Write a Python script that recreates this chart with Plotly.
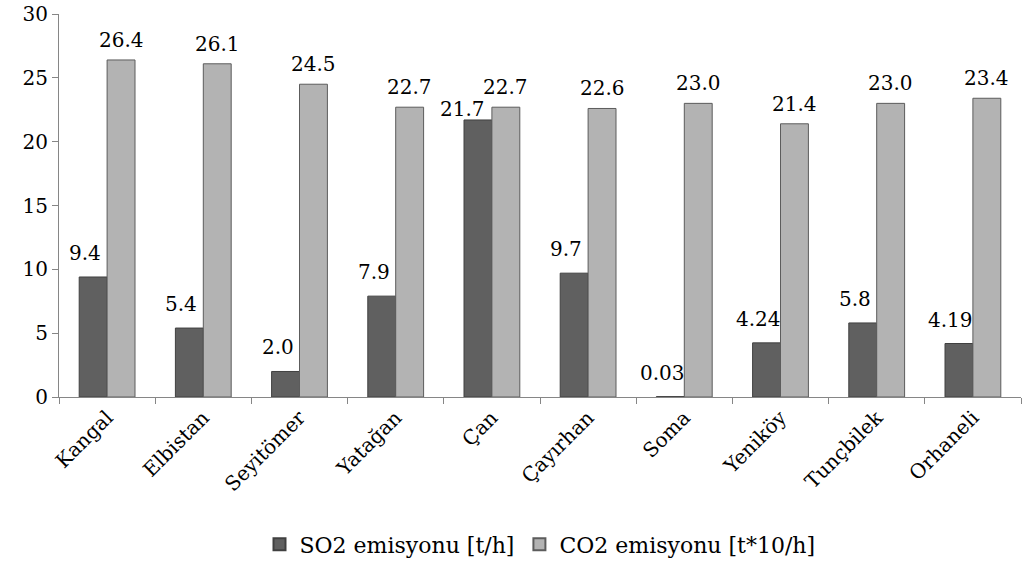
import plotly.graph_objects as go

categories = ["Kangal", "Elbistan", "Seyitömer", "Yatağan", "Çan", "Çayırhan",
              "Soma", "Yeniköy", "Tunçbilek", "Orhaneli"]
so2_values = [9.4, 5.4, 2.0, 7.9, 21.7, 9.7, 0.03, 4.24, 5.8, 4.19]
co2_values = [26.4, 26.1, 24.5, 22.7, 22.7, 22.6, 23.0, 21.4, 23.0, 23.4]
so2_labels = ["9.4", "5.4", "2.0", "7.9", "21.7", "9.7", "0.03", "4.24", "5.8", "4.19"]
co2_labels = ["26.4", "26.1", "24.5", "22.7", "22.7", "22.6", "23.0", "21.4", "23.0", "23.4"]
y_ticks = [0, 5, 10, 15, 20, 25, 30]

FONT = "DejaVu Serif"
FS = 20

fig = go.Figure()
fig.add_trace(go.Bar(
    x=categories, y=so2_values, name="SO2 emisyonu [t/h]",
    marker=dict(color="#606060", line=dict(color="#404040", width=1)),
))
fig.add_trace(go.Bar(
    x=categories, y=co2_values, name="CO2 emisyonu [t*10/h]",
    marker=dict(color="#b3b3b3", line=dict(color="#5c5c5c", width=1)),
))

annotations = []
for c, v, t in zip(categories, so2_values, so2_labels):
    big = v > 20
    annotations.append(dict(
        x=c, y=v, xref="x", yref="y", text=t, showarrow=False,
        xanchor="center", yanchor="bottom",
        xshift=-29 if big else -22, yshift=-3 if big else 10,
        font=dict(family=FONT, size=FS, color="#000000"),
    ))
for c, v, t in zip(categories, co2_values, co2_labels):
    annotations.append(dict(
        x=c, y=v, xref="x", yref="y", text=t, showarrow=False,
        xanchor="center", yanchor="bottom", xshift=14, yshift=6,
        font=dict(family=FONT, size=FS, color="#000000"),
    ))

fig.update_layout(
    width=1022, height=572,
    margin=dict(l=59, r=1, t=14, b=175),
    paper_bgcolor="white", plot_bgcolor="white",
    barmode="group", bargap=0.42, bargroupgap=0,
    font=dict(family=FONT, size=FS, color="#000000"),
    showlegend=True,
    legend=dict(orientation="h", x=0.5, xanchor="center", y=-0.385, yanchor="middle",
                font=dict(family=FONT, size=22, color="#000000"),
                itemsizing="constant", traceorder="normal"),
    annotations=annotations,
)
fig.update_xaxes(
    type="category", tickson="boundaries", ticks="outside", ticklen=6,
    tickcolor="#868686", showline=True, linecolor="#868686", linewidth=1,
    tickangle=-45, showgrid=False, zeroline=False,
    tickfont=dict(family=FONT, size=FS, color="#000000"),
)
fig.update_yaxes(
    range=[0, 30], tickvals=y_ticks, ticks="outside", ticklen=6,
    tickcolor="#868686", showline=True, linecolor="#868686", linewidth=1,
    showgrid=False, zeroline=False,
    tickfont=dict(family=FONT, size=FS, color="#000000"),
)

fig.write_html("out.html")
